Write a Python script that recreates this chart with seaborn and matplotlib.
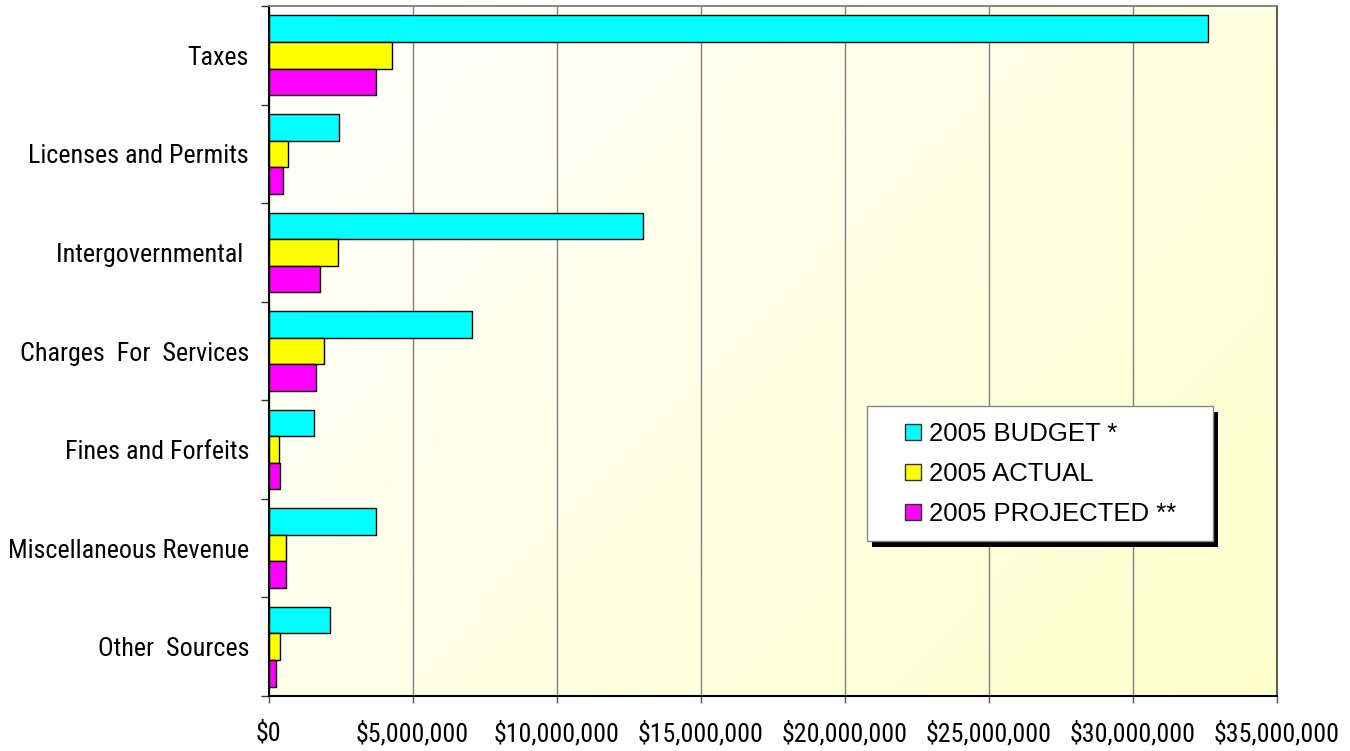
import numpy as np
import pandas as pd
import matplotlib
matplotlib.use("Agg")
import matplotlib.pyplot as plt
import seaborn as sns
from matplotlib.patches import Rectangle
from matplotlib.lines import Line2D
from matplotlib.ticker import FuncFormatter, FixedLocator

# Revenue categories, top to bottom
categories = ["Taxes", "Licenses and Permits", "Intergovernmental ", "Charges  For  Services",
              "Fines and Forfeits", "Miscellaneous Revenue", "Other  Sources"]
series = ["2005 BUDGET *", "2005 ACTUAL", "2005 PROJECTED **"]

# values in dollars
budget    = [32600000, 2460000, 13000000, 7050000, 1570000, 3720000, 2130000]
actual    = [4280000, 670000, 2400000, 1920000, 380000, 590000, 390000]
projected = [3720000, 520000, 1780000, 1640000, 390000, 590000, 250000]

colors = ["#00FFFF", "#FFFF00", "#FF00FF"]

df = pd.DataFrame({
    "Category": categories * 3,
    "Series": [series[0]] * 7 + [series[1]] * 7 + [series[2]] * 7,
    "Value": budget + actual + projected,
})

sns.set_theme(style="white")
plt.rcParams["font.family"] = ["Liberation Sans", "DejaVu Sans"]
plt.rcParams["text.color"] = "black"
narrow = ["Roboto Condensed", "Liberation Sans", "DejaVu Sans"]

fig = plt.figure(figsize=(13.5, 7.51), dpi=100)
ax = fig.add_axes([268.5 / 1350, 1 - 696 / 751, (1277 - 268.5) / 1350, 690 / 751])

# diagonal white -> pale yellow background
gx, gy = np.meshgrid(np.linspace(0, 1, 300), np.linspace(0, 1, 200))
t = (gx * 0.6 + gy * 0.4)
img = np.ones((200, 300, 3))
img[..., 2] = 1 - t * (1 - 204 / 255)
ax.imshow(img, extent=[0, 1, 0, 1], transform=ax.transAxes, aspect="auto", zorder=0,
          origin="upper")
ax.set_facecolor("none")

sns.barplot(data=df, y="Category", x="Value", hue="Series", orient="h",
            palette=colors, width=0.81, edgecolor="black", linewidth=1,
            saturation=1, ax=ax, zorder=3, legend=False)

ax.set_xlim(0, 35000000)
ax.set_ylim(6.5, -0.5)
ax.set_xlabel("")
ax.set_ylabel("")

# x axis: dollar ticks with vertical grid
ax.xaxis.set_major_locator(FixedLocator(np.arange(0, 35000001, 5000000)))
ax.xaxis.set_major_formatter(FuncFormatter(lambda v, p: "${:,.0f}".format(v)))
ax.grid(axis="x", color="#808080", linewidth=1, zorder=1)
ax.set_axisbelow(True)

# y axis: ticks between categories, labels centred on categories
ax.yaxis.set_major_locator(FixedLocator(np.arange(-0.5, 7, 1)))
ax.yaxis.set_major_formatter(FuncFormatter(lambda v, p: ""))
ax.set_yticks(np.arange(0, 7), labels=categories, minor=True)

ax.tick_params(axis="y", which="major", direction="out", length=6, width=1, color="#333333", left=True)
ax.tick_params(axis="y", which="minor", length=0, pad=14, labelsize=18.7)
ax.tick_params(axis="x", which="major", direction="out", length=5, width=1, color="#555555",
               bottom=True, pad=13, labelsize=18.7)
for lab in ax.get_xticklabels() + ax.get_yticklabels(minor=True):
    lab.set_family(narrow)
    lab.set_color("black")

for side in ["left", "bottom"]:
    ax.spines[side].set_color("black")
    ax.spines[side].set_linewidth(1.5)
ax.spines["top"].set_color("#777777")
ax.spines["right"].set_color("#444444")
for s in ax.spines.values():
    s.set_zorder(5)

# legend box with hard black shadow
W, H = 1350, 751
bx0, by0, bx1, by1 = 867, 406, 1213, 541
fig.patches.append(Rectangle(((bx0 + 5) / W, 1 - (by1 + 6) / H), (bx1 - bx0) / W, (by1 - by0) / H,
                             transform=fig.transFigure, facecolor="black", edgecolor="none", zorder=8))
fig.patches.append(Rectangle((bx0 / W, 1 - by1 / H), (bx1 - bx0) / W, (by1 - by0) / H,
                             transform=fig.transFigure, facecolor="white", edgecolor="#888888",
                             linewidth=1, zorder=9))
handles = [Line2D([], [], linestyle="none", marker="s", markersize=11, markerfacecolor=c,
                  markeredgecolor="#333333", markeredgewidth=1) for c in colors]
leg = fig.legend(handles, series, loc="upper left", bbox_to_anchor=(903 / W, 1 - 422 / H),
                 frameon=False, fontsize=18.5, handlelength=0.8, handletextpad=0.2,
                 labelspacing=0.62, borderpad=0, borderaxespad=0, labelcolor="black")
leg.set_zorder(10)

fig.savefig("out.png", dpi=100)
